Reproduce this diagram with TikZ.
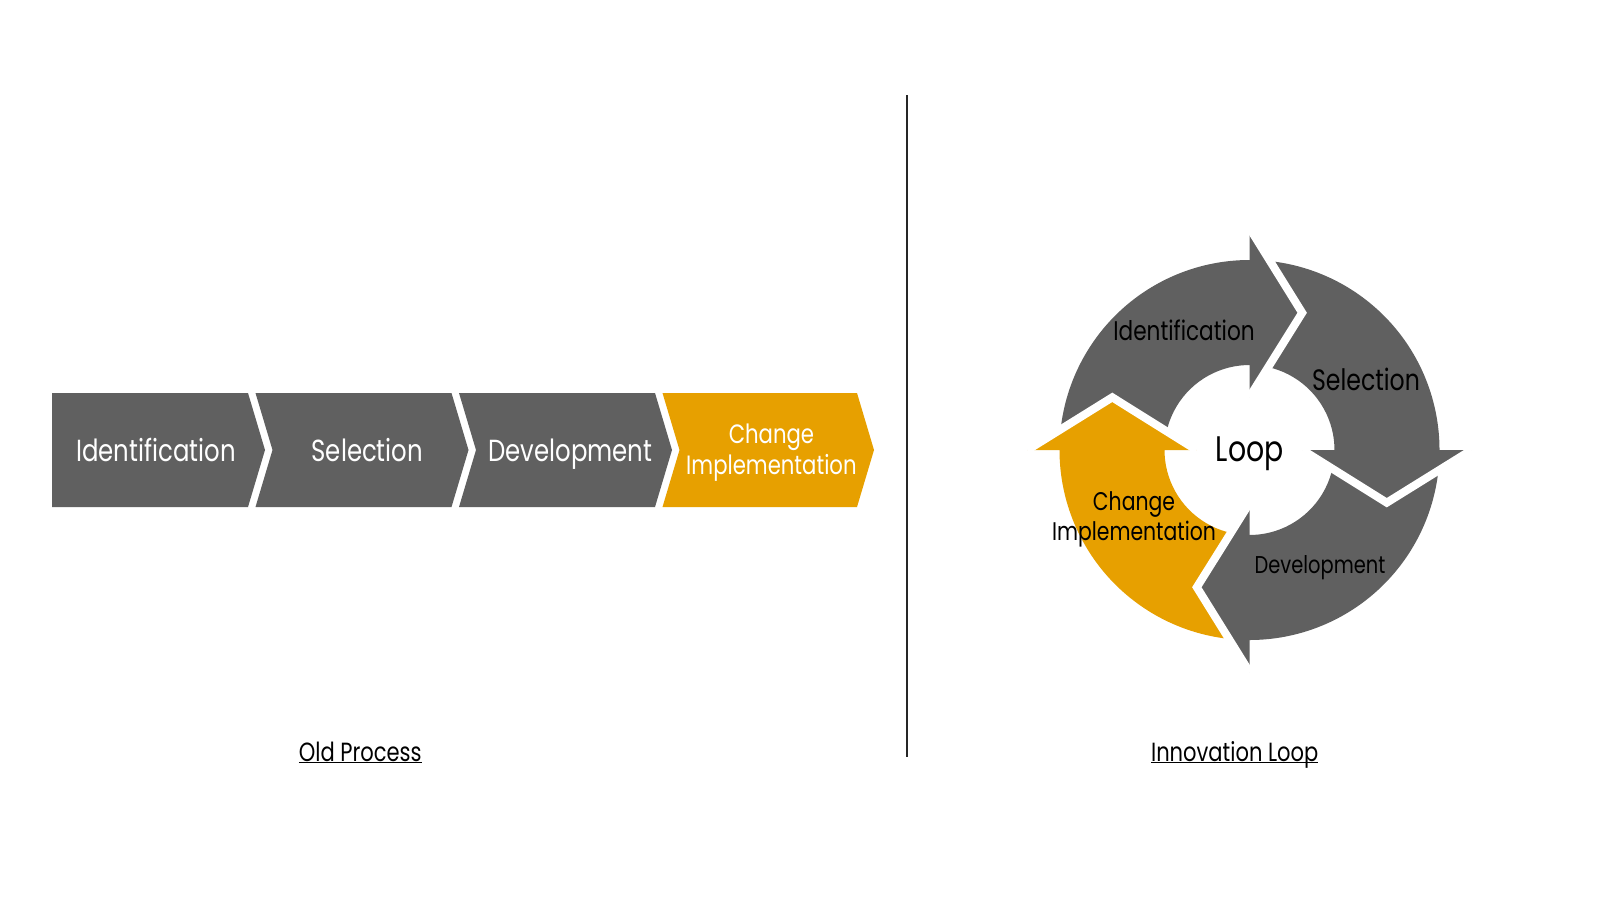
\documentclass[tikz,border=0pt]{standalone}
\usepackage{fontspec}
\setmainfont{Poppins}[FakeStretch=0.8]
\definecolor{gr}{RGB}{96,96,96}
\definecolor{gold}{RGB}{231,160,0}
\begin{document}
\begin{tikzpicture}[x=1pt,y=-1pt,
  chevbox/.style={fill=gr},
  chevgold/.style={fill=gold},
  chevtext/.style={text=white,anchor=base,inner sep=0pt,font=\fontsize{30.5}{37}\selectfont},
  chevtwo/.style={text=white,align=center,inner sep=0pt,font=\fontsize{26.5}{31.7}\selectfont},
  ringtext/.style={text=black,anchor=base,inner sep=0pt},
  gapline/.style={draw=white,line width=8,miter limit=20},
  caption/.style={text=black,anchor=base,inner sep=0pt,font=\fontsize{26.3}{30}\selectfont}]
\useasboundingbox (0,0) rectangle (1600,900);
\fill[white] (0,0) rectangle (1600,900);

% ---------- old process chevrons ----------
\fill[chevbox] (52,393) -- (248,393) -- (265,450) -- (248,507) -- (52,507) -- cycle;
\fill[chevbox] (255.5,393) -- (451.5,393) -- (468.5,450) -- (451.5,507) -- (255.5,507) -- (272.5,450) -- cycle;
\fill[chevbox] (459,393) -- (655,393) -- (672,450) -- (655,507) -- (459,507) -- (476,450) -- cycle;
\fill[chevgold] (662.5,393) -- (857,393) -- (874,450) -- (857,507) -- (662.5,507) -- (679.5,450) -- cycle;

\node[chevtext] (c1) at (156,461) {Identification};
\node[chevtext] (c2) at (367.3,461) {Selection};
\node[chevtext] (c3) at (570.4,461) {Development};
\node[chevtwo] (c4) at (771.4,452.5) {Change\\Implementation};

% ---------- divider ----------
\coordinate (d1) at (907,95);
\coordinate (d2) at (907,757);
\draw[line width=1.6,color=black!85] (d1) -- (d2);

% ---------- innovation loop ----------
\begin{scope}[shift={(1249.5,450)},yscale=-1]
  % ring bodies (order chosen so that no colour seam shows under the heads)
  \fill[gr] (180:190) arc[start angle=180,end angle=89,radius=190] -- (89:85) arc[start angle=89,end angle=180,radius=85] -- cycle;
  \fill[gr] (90:190) arc[start angle=90,end angle=-1,radius=190] -- (-1:85) arc[start angle=-1,end angle=90,radius=85] -- cycle;
  \fill[gold] (-90:190) arc[start angle=-90,end angle=-181,radius=190] -- (-181:85) arc[start angle=-181,end angle=-90,radius=85] -- cycle;
  \fill[gr] (0:190) arc[start angle=0,end angle=-91,radius=190] -- (-91:85) arc[start angle=-91,end angle=0,radius=85] -- cycle;
  % heads
  \fill[gr] (90:222) -- (69:147) -- (90:53) -- cycle;
  \fill[gr] (0:222) -- (-21:147) -- (0:53) -- cycle;
  \fill[gr] (-90:222) -- (-111:147) -- (-90:53) -- cycle;
  \fill[gold] (180:222) -- (159:147) -- (180:53) -- cycle;
  % white gaps along head edges
  \draw[gapline] (90:222) -- (69:147) -- (90:53);
  \draw[gapline] (0:222) -- (-21:147) -- (0:53);
  \draw[gapline] (-90:222) -- (-111:147) -- (-90:53);
  \draw[gapline] (180:222) -- (159:147) -- (180:53);
\end{scope}

\node[ringtext,font=\fontsize{27}{32}\selectfont] (r1) at (1184,340.7) {Identification};
\node[ringtext,font=\fontsize{29.5}{35}\selectfont] (r2) at (1366,390) {Selection};
\node[ringtext,font=\fontsize{24.3}{29}\selectfont] (r3) at (1320,573.3) {Development};
\node[text=black,align=center,inner sep=0pt,font=\fontsize{25.5}{30}\selectfont] (r4) at (1134,519.5) {Change\\Implementation};
\node[ringtext,font=\fontsize{35.5}{42}\selectfont] (loop) at (1249.7,461.7) {Loop};

% ---------- captions ----------
\node[caption] (cap1) at (360.2,761) {\underline{\smash{Old Process}}};
\node[caption] (cap2) at (1234.7,761) {\underline{\smash{Innovation Loop}}};
\end{tikzpicture}
\end{document}
